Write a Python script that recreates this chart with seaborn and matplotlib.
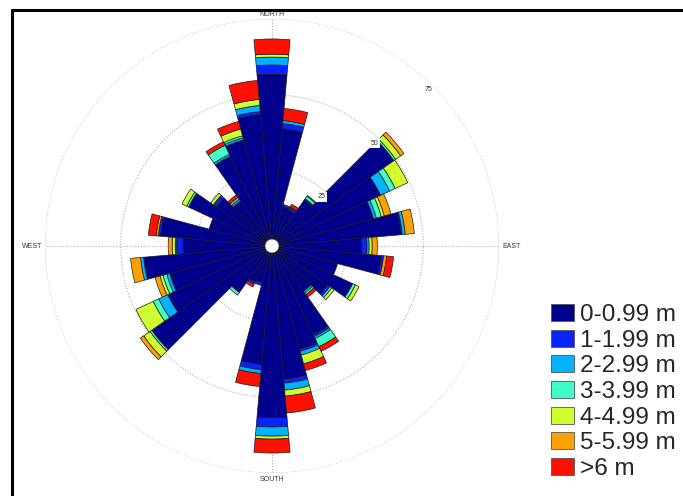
import numpy as np
import matplotlib
matplotlib.use("Agg")
import matplotlib.pyplot as plt
from matplotlib.patches import Patch
from matplotlib.lines import Line2D
import seaborn as sns

# wave rose: frequency (%) per 10 degree sector, stacked by wave height class
directions = np.arange(0, 360, 10)
class_labels = ["0-0.99 m", "1-1.99 m", "2-2.99 m", "3-3.99 m", "4-4.99 m", "5-5.99 m", ">6 m"]
class_colors = ["#00008c", "#0a22ff", "#00b2ff", "#3effc6", "#ceff2e", "#ffa000", "#ff1000"]

h_0_1 = [56.8, 38.9, 13.5, 13.2, 18.8, 49.2, 39.6, 34.7, 42.9, 29.7, 36.3, 22.4,
         29.4, 22.4, 18.2, 32.3, 35.3, 44.2, 56.8, 39.3, 12.5, 13.2, 18.8, 48.5,
         38.0, 35.0, 42.6, 29.4, 37.0, 21.5, 30.4, 22.4, 18.2, 32.7, 36.3, 43.6]
h_1_2 = [3.0, 1.7, 0.7, 0.7, 0.0, 0.0, 0.0, 0.0, 0.3, 1.7, 0.7, 0.0,
         0.0, 1.0, 0.0, 0.7, 0.7, 1.3, 3.0, 1.7, 1.0, 0.7, 0.0, 0.0,
         0.0, 0.0, 0.0, 2.0, 0.7, 0.0, 0.0, 1.0, 0.0, 0.0, 0.0, 1.0]
h_2_3 = [2.6, 1.0, 0.0, 0.3, 0.3, 0.0, 3.3, 1.0, 1.0, 0.7, 0.0, 0.0,
         0.0, 0.0, 0.7, 0.7, 1.3, 2.3, 3.0, 1.3, 0.0, 0.0, 0.0, 0.0,
         3.3, 1.0, 1.0, 0.3, 0.0, 0.0, 0.0, 0.3, 0.7, 0.7, 0.7, 2.0]
h_3_4 = [0.0, 0.0, 0.0, 0.0, 1.0, 0.7, 2.0, 1.7, 0.0, 0.0, 0.0, 0.0,
         1.0, 0.7, 0.7, 3.0, 0.0, 0.0, 0.0, 0.0, 0.0, 0.0, 1.0, 0.7,
         2.0, 1.3, 0.0, 0.3, 0.0, 0.0, 0.7, 0.0, 0.7, 3.3, 0.7, 0.0]
h_4_5 = [1.0, 0.0, 0.0, 0.0, 0.3, 2.0, 4.6, 1.0, 0.0, 1.0, 0.0, 0.0,
         1.3, 1.0, 0.0, 0.0, 3.0, 2.0, 1.0, 0.0, 0.0, 0.0, 0.0, 2.6,
         6.3, 1.0, 0.0, 1.0, 0.0, 0.0, 1.7, 1.0, 0.0, 0.0, 2.3, 2.0]
h_5_6 = [0.0, 0.0, 0.0, 0.0, 0.0, 1.3, 0.0, 2.3, 3.0, 1.7, 1.0, 0.0,
         0.0, 0.0, 0.0, 0.0, 0.0, 0.0, 0.0, 0.0, 0.0, 0.0, 0.0, 1.3,
         0.0, 1.7, 3.3, 1.3, 0.7, 0.0, 0.0, 0.0, 0.0, 0.0, 0.0, 0.0]
h_6_up = [5.0, 4.0, 0.0, 1.0, 0.0, 0.0, 0.0, 0.0, 0.0, 0.0, 2.3, 0.0,
          0.0, 0.0, 1.0, 1.7, 2.3, 5.6, 4.6, 4.3, 0.0, 1.0, 0.0, 0.0,
          0.0, 0.0, 0.0, 0.0, 2.6, 0.0, 0.0, 0.0, 1.0, 1.3, 2.6, 6.3]

ring_values = [25, 50, 75]
compass_labels = ["NORTH", "EAST", "SOUTH", "WEST"]
compass_angles = [0, 90, 180, 270]

sns.set_theme(style="white")
plt.rcParams['font.family'] = ['Liberation Sans', 'DejaVu Sans']

fig = plt.figure(figsize=(6.83, 4.96), dpi=100)
ax = fig.add_axes([45/683, 23/496, 454/683, 454/496], projection='polar')
ax.set_theta_zero_location('N')
ax.set_theta_direction(-1)

theta = np.deg2rad(directions)
width = np.deg2rad(10)
series = [h_0_1, h_1_2, h_2_3, h_3_4, h_4_5, h_5_6, h_6_up]
bottom = np.zeros(len(directions))
for vals, color in zip(series, class_colors):
    vals = np.asarray(vals)
    m = vals > 0
    ax.bar(theta[m], vals[m], width=width, bottom=bottom[m], color=color,
           edgecolor='#1a1a1a', linewidth=0.5, zorder=2)
    bottom += vals

# white hole in the middle
hole = 2.3
ax.bar(0, hole, width=2*np.pi, bottom=0, color='white', linewidth=0, zorder=4)
t = np.linspace(0, 2*np.pi, 200)
ax.plot(t, np.full_like(t, hole), color='#444444', lw=0.5, zorder=5)

ax.set_ylim(0, 75)
ax.set_yticks(ring_values)
ax.set_yticklabels([])
ax.set_xticks(np.deg2rad(compass_angles))
ax.set_xticklabels([])
ax.grid(True, color='#b0b0b0', linestyle=(0, (1, 1.5)), linewidth=0.8)
ax.spines['polar'].set_visible(False)
ax.set_axisbelow(True)

for v in ring_values:
    ax.text(np.deg2rad(45), v - 2.0, str(v), fontsize=5, ha='center', va='center',
            color='#333333', zorder=6,
            bbox=dict(facecolor='white', edgecolor='none', pad=1.2))

ax.text(0, 76.5, compass_labels[0], ha='center', va='center', fontsize=5, color='#333333')
ax.text(np.deg2rad(90), 76, compass_labels[1], ha='left', va='center', fontsize=5, color='#333333')
ax.text(np.pi, 77, compass_labels[2], ha='center', va='center', fontsize=5, color='#333333')
ax.text(np.deg2rad(270), 76, compass_labels[3], ha='right', va='center', fontsize=5, color='#333333')

handles = [Patch(facecolor=c, edgecolor='#555555', linewidth=0.6, label=l)
           for c, l in zip(class_colors, class_labels)]
fig.legend(handles=handles, loc='upper left', bbox_to_anchor=(551/683, 1 - 304/496),
           frameon=False, fontsize=17.5, handlelength=0.95, handleheight=0.7,
           handletextpad=0.25, labelspacing=0.15, borderpad=0, borderaxespad=0)

# frame lines of the original figure
fig.add_artist(Line2D([12/683, 1], [1 - 10/496, 1 - 10/496], color='black', lw=2.2))
fig.add_artist(Line2D([12/683, 12/683], [0, 1 - 10/496], color='black', lw=2.2))

fig.savefig('out.png', dpi=100)
